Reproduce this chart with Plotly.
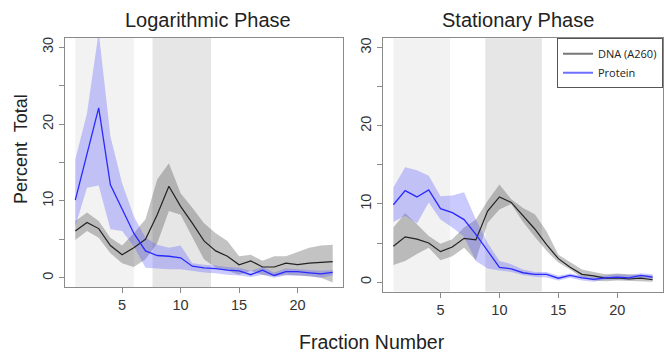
import plotly.graph_objects as go

fraction = list(range(1, 24))

# Logarithmic phase
log_dna = [6.1, 7.2, 6.4, 4.2, 3.0, 3.9, 5.0, 8.2, 11.9, 9.3, 7.1, 4.8, 3.5, 2.8, 1.7, 2.2, 1.4, 1.4, 1.9, 1.7, 1.9, 2.0, 2.1]
log_dna_hi = [7.4, 8.5, 7.4, 5.2, 4.2, 5.8, 7.6, 12.8, 14.9, 11.0, 9.1, 7.1, 5.8, 4.8, 2.8, 3.0, 2.2, 2.8, 2.8, 3.3, 3.9, 4.2, 4.3]
log_dna_lo = [4.9, 6.1, 5.2, 3.2, 1.9, 1.4, 2.4, 4.5, 8.7, 8.2, 5.4, 2.4, 1.3, 0.9, 0.4, 0.9, 0.4, 0.2, 0.4, 0.3, 0.2, 0.0, -0.6]
log_prot = [10.1, 16.2, 22.1, 12.1, 8.9, 5.8, 3.5, 2.9, 2.8, 2.6, 1.5, 1.3, 1.2, 1.0, 0.9, 0.4, 1.0, 0.3, 0.8, 0.8, 0.65, 0.5, 0.7]
log_prot_hi = [15.4, 21.4, 32.0, 18.4, 12.3, 8.0, 5.2, 4.3, 3.9, 4.2, 1.9, 1.7, 1.6, 1.4, 1.3, 0.9, 1.4, 0.7, 1.2, 1.1, 1.0, 0.9, 1.0]
log_prot_lo = [6.7, 11.7, 12.0, 6.3, 6.1, 4.1, 1.3, 1.2, 1.1, 1.1, 0.9, 0.7, 0.6, 0.4, 0.3, 0.1, 0.4, 0.0, 0.3, 0.3, 0.2, 0.0, 0.3]

# Stationary phase
sta_dna = [4.6, 5.8, 5.5, 5.0, 3.9, 4.5, 5.6, 5.4, 9.1, 10.9, 10.2, 8.5, 6.8, 4.8, 3.0, 1.9, 1.0, 0.8, 0.5, 0.55, 0.4, 0.5, 0.3]
sta_dna_hi = [7.0, 8.8, 7.4, 5.9, 4.9, 5.5, 7.0, 8.0, 10.4, 12.5, 10.6, 9.5, 8.7, 6.5, 3.5, 2.5, 1.6, 1.3, 1.0, 1.1, 1.0, 0.9, 0.8]
sta_dna_lo = [2.2, 2.7, 3.6, 4.4, 2.8, 3.3, 4.4, 2.8, 7.6, 9.3, 10.0, 7.7, 5.8, 4.0, 2.5, 1.6, 0.55, 0.2, 0.1, 0.2, 0.2, 0.1, 0.05]
sta_prot = [9.9, 11.7, 10.9, 11.8, 9.4, 8.9, 8.0, 6.1, 4.0, 1.9, 1.7, 1.2, 1.0, 1.0, 0.5, 0.85, 0.55, 0.35, 0.55, 0.65, 0.55, 0.85, 0.65]
sta_prot_hi = [12.1, 14.7, 14.3, 13.6, 11.0, 11.1, 11.5, 8.0, 5.0, 2.7, 2.3, 1.6, 1.3, 1.3, 0.8, 1.1, 0.8, 0.65, 0.85, 1.0, 0.9, 1.15, 1.0]
sta_prot_lo = [7.7, 8.5, 7.5, 10.2, 8.0, 7.0, 5.8, 2.7, 1.75, 1.5, 1.3, 0.9, 0.7, 0.6, 0.2, 0.55, 0.2, 0.05, 0.35, 0.35, 0.3, 0.55, 0.4]

# shaded fraction ranges
log_bands = [(1, 6, "#f2f2f2"), (7.6, 12.6, "#e6e6e6")]
sta_bands = [(1, 5.8, "#f2f2f2"), (8.8, 13.6, "#e6e6e6")]

panel_titles = ["Logarithmic Phase", "Stationary Phase"]
series_names = ["DNA (A260)", "Protein"]

DNA_LINE = "#222222"
DNA_FILL = "rgba(60,60,60,0.31)"
PROT_LINE = "#2a2aff"
PROT_FILL = "rgba(90,90,255,0.32)"

fig = go.Figure()

def add_panel(xa, ya, dna, dhi, dlo, prot, phi, plo):
    for hi, lo, col in [(dhi, dlo, DNA_FILL), (phi, plo, PROT_FILL)]:
        fig.add_trace(go.Scatter(x=fraction + fraction[::-1], y=hi + lo[::-1],
                                 fill="toself", fillcolor=col, line=dict(width=0),
                                 mode="lines", hoverinfo="skip", showlegend=False,
                                 xaxis=xa, yaxis=ya))
    fig.add_trace(go.Scatter(x=fraction, y=dna, mode="lines", line=dict(color=DNA_LINE, width=1.2),
                             showlegend=False, xaxis=xa, yaxis=ya))
    fig.add_trace(go.Scatter(x=fraction, y=prot, mode="lines", line=dict(color=PROT_LINE, width=1.3),
                             showlegend=False, xaxis=xa, yaxis=ya))

add_panel("x", "y", log_dna, log_dna_hi, log_dna_lo, log_prot, log_prot_hi, log_prot_lo)
add_panel("x2", "y2", sta_dna, sta_dna_hi, sta_dna_lo, sta_prot, sta_prot_hi, sta_prot_lo)

# legend entries
fig.add_trace(go.Scatter(x=[None], y=[None], mode="lines", name=series_names[0],
                         line=dict(color="#777777", width=2), xaxis="x2", yaxis="y2"))
fig.add_trace(go.Scatter(x=[None], y=[None], mode="lines", name=series_names[1],
                         line=dict(color="#7070ff", width=2), xaxis="x2", yaxis="y2"))

shapes = []
for xr, bands in [("x", log_bands), ("x2", sta_bands)]:
    yr = "y domain" if xr == "x" else "y2 domain"
    for x0, x1, col in bands:
        shapes.append(dict(type="rect", xref=xr, yref=yr, x0=x0, x1=x1, y0=0, y1=1,
                           fillcolor=col, line=dict(width=0), layer="below"))

axis_common = dict(showline=True, mirror=True, linecolor="#8a8a8a", linewidth=1,
                   ticks="outside", ticklen=5, tickcolor="#8a8a8a", showgrid=False,
                   zeroline=False, tickfont=dict(family="Liberation Sans, Arial", size=14.5, color="#333333"))
yticks = dict(tickvals=[0, 5, 10, 15, 20, 25, 30], ticktext=["0", "", "10", "", "20", "", "30"],
              range=[-1.2, 31.2], tickangle=-90)
xticks = dict(tickvals=[5, 10, 15, 20], range=[0.12, 23.88])

fig.update_layout(
    width=664, height=353, margin=dict(l=0, r=0, t=0, b=0, autoexpand=False),
    paper_bgcolor="white", plot_bgcolor="white",
    font=dict(family="Liberation Sans, Arial", color="#222222"),
    xaxis=dict(domain=[65/664, 343/664], anchor="y", **xticks, **axis_common),
    yaxis=dict(domain=[1-287/353, 1-38/353], anchor="x", **yticks, **axis_common),
    xaxis2=dict(domain=[383/664, 0.9985], anchor="y2", **xticks, **axis_common),
    yaxis2=dict(domain=[1-291.5/353, 1-38.3/353], anchor="x2", **yticks, **axis_common),
    shapes=shapes,
    showlegend=True,
    legend=dict(x=0.9985, xanchor="right", y=1-38.3/353, yanchor="top",
                bgcolor="white", bordercolor="#555555", borderwidth=1,
                font=dict(family="Open Sans, Liberation Sans", size=11, color="#222222"),
                tracegroupgap=0, itemwidth=30),
    annotations=[
        dict(text=panel_titles[0], x=207.5/664, y=1-20/353, xref="paper", yref="paper",
             xanchor="center", yanchor="middle", showarrow=False, font=dict(size=20)),
        dict(text=panel_titles[1], x=518/664, y=1-20/353, xref="paper", yref="paper",
             xanchor="center", yanchor="middle", showarrow=False, font=dict(size=20)),
        dict(text="Percent  Total", x=21/664, y=1-149/353, xref="paper", yref="paper",
             xanchor="center", yanchor="middle", showarrow=False, textangle=-90, font=dict(size=18)),
        dict(text="Fraction Number", x=372/664, y=1-342/353, xref="paper", yref="paper",
             xanchor="center", yanchor="middle", showarrow=False, font=dict(size=19.5)),
    ],
)

fig.write_html("out.html", config={"displayModeBar": False},
               post_script="document.body.style.margin='0';document.body.style.overflow='hidden';")
